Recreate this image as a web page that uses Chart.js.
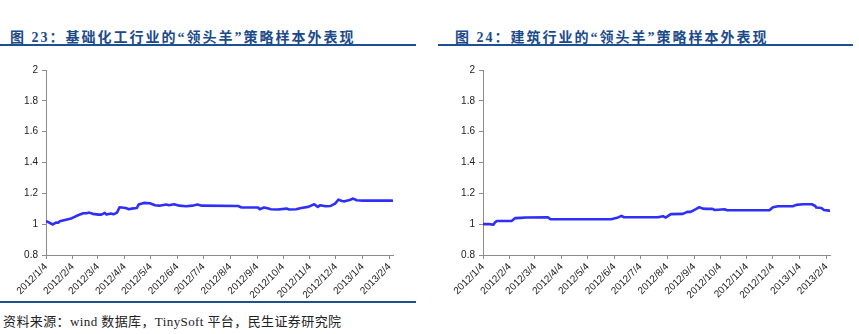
<!DOCTYPE html>
<html>
<head>
<meta charset="utf-8">
<script src="https://cdn.jsdelivr.net/npm/chart.js@4/dist/chart.umd.min.js"></script>
<style>
  html, body { margin: 0; padding: 0; background: #fff; }
  body { width: 859px; height: 334px; position: relative; overflow: hidden; }
  .title {
    position: absolute; top: 26px; white-space: nowrap;
    font: bold 14px "Liberation Serif", "Noto Sans CJK SC", serif;
    color: #1b4a8a; letter-spacing: 2px;
  }
  .rule { position: absolute; height: 2px; background: #1d4f93; }
  .box { position: absolute; top: 60px; width: 403px; height: 240px; }
  .source {
    position: absolute; left: 3px; top: 311px; white-space: nowrap;
    font: 13px "Liberation Serif", "Noto Sans CJK SC", serif; color: #222; letter-spacing: 0.4px;
  }
</style>
</head>
<body>
<div class="title" style="left:10px">图 23：基础化工行业的“领头羊”策略样本外表现</div>
<div class="rule" style="left:0; top:44px; width:416px"></div>
<div class="title" style="left:455px">图 24：建筑行业的“领头羊”策略样本外表现</div>
<div class="rule" style="left:438px; top:44px; width:415px"></div>
<div class="box" style="left:0"><canvas id="chem"></canvas></div>
<div class="box" style="left:437px"><canvas id="build"></canvas></div>
<div class="rule" style="left:0; top:301px; width:416px"></div>
<div class="source">资料来源：wind 数据库，TinySoft 平台，民生证券研究院</div>

<script>
// Monthly axis labels (date axis, one label per month)
const xTickLabels = ['2012/1/4','2012/2/4','2012/3/4','2012/4/4','2012/5/4','2012/6/4','2012/7/4',
  '2012/8/4','2012/9/4','2012/10/4','2012/11/4','2012/12/4','2013/1/4','2013/2/4'];
const yTickValues = [0.8, 1, 1.2, 1.4, 1.6, 1.8, 2];
const yTickLabels = ['0.8', '1', '1.2', '1.4', '1.6', '1.8', '2'];

// 基础化工 net value
const chemDates = ['2012-01-04','2012-01-06','2012-01-12','2012-01-16','2012-01-18','2012-01-20',
  '2012-02-02','2012-02-06','2012-02-10','2012-02-16','2012-02-20','2012-02-23','2012-02-27',
  '2012-03-05','2012-03-08','2012-03-12','2012-03-14','2012-03-19','2012-03-22','2012-03-26','2012-03-29',
  '2012-04-05','2012-04-09','2012-04-12','2012-04-18','2012-04-20','2012-04-26',
  '2012-05-03','2012-05-09','2012-05-14','2012-05-22','2012-05-25','2012-05-31',
  '2012-06-06','2012-06-14','2012-06-21','2012-06-27','2012-07-02','2012-08-13','2012-08-17',
  '2012-09-05','2012-09-07','2012-09-12','2012-09-17','2012-09-20','2012-09-28',
  '2012-10-08','2012-10-11','2012-10-19','2012-10-25',
  '2012-11-02','2012-11-09','2012-11-13','2012-11-16','2012-11-22','2012-11-28',
  '2012-12-03','2012-12-07','2012-12-11','2012-12-14','2012-12-20','2012-12-24','2012-12-28',
  '2013-01-04','2013-02-07'];
const chemValues = [1.019,1.015,0.998,1.011,1.009,1.019,
  1.037,1.047,1.058,1.071,1.071,1.075,1.067,
  1.062,1.062,1.073,1.062,1.069,1.064,1.075,1.110,
  1.105,1.097,1.101,1.105,1.127,1.138,
  1.136,1.123,1.120,1.127,1.123,1.129,
  1.120,1.116,1.120,1.127,1.120,1.118,1.108,
  1.108,1.097,1.108,1.101,1.097,1.095,
  1.101,1.095,1.097,1.105,
  1.112,1.129,1.112,1.123,1.116,1.118,
  1.133,1.159,1.150,1.148,1.157,1.166,1.155,
  1.153,1.153];

// 建筑 net value
const buildDates = ['2012-01-04','2012-01-12','2012-01-16','2012-01-18','2012-01-20',
  '2012-02-06','2012-02-10','2012-02-17','2012-02-22','2012-03-19','2012-03-22',
  '2012-05-31','2012-06-07','2012-06-12','2012-06-15','2012-07-24','2012-07-30',
  '2012-08-02','2012-08-08','2012-08-22','2012-08-27','2012-08-31',
  '2012-09-06','2012-09-10','2012-09-14','2012-09-18','2012-09-25','2012-09-28',
  '2012-10-09','2012-10-12','2012-11-30','2012-12-04','2012-12-10','2012-12-27','2012-12-31',
  '2013-01-08','2013-01-18','2013-01-22','2013-01-23','2013-01-29','2013-02-01','2013-02-07'];
const buildValues = [1.000,1.000,0.997,1.012,1.021,
  1.021,1.039,1.041,1.043,1.045,1.032,
  1.032,1.041,1.054,1.045,1.045,1.052,
  1.043,1.065,1.067,1.080,1.080,
  1.097,1.110,1.101,1.099,1.099,1.092,
  1.097,1.090,1.090,1.110,1.116,1.116,1.125,
  1.129,1.129,1.118,1.108,1.105,1.092,1.088];

// days elapsed since the first trading day
const BASE = Date.UTC(2012, 0, 4);
function dayOf(s) {
  const [y, m, d] = s.split(/[-\/]/).map(Number);
  return (Date.UTC(y, m - 1, d) - BASE) / 864e5;
}
const xTickDays = xTickLabels.map(dayOf);
const X_MAX = dayOf('2013-02-08');

const axisColor = '#8c8c8c';
const tickFont = { family: '"Liberation Sans", Arial, sans-serif', size: 10 };

function makeChart(id, dates, values) {
  return new Chart(document.getElementById(id), {
    type: 'line',
    data: {
      datasets: [{
        data: dates.map((d, i) => ({ x: dayOf(d), y: values[i] })),
        borderColor: '#2f2ffc',
        borderWidth: 2.6,
        pointRadius: 0,
        tension: 0,
        borderJoinStyle: 'round',
        borderCapStyle: 'round'
      }]
    },
    options: {
      responsive: true,
      maintainAspectRatio: false,
      animation: false,
      layout: { padding: { top: 9, right: 10, left: 0, bottom: 0 } },
      plugins: { legend: { display: false }, tooltip: { enabled: false } },
      scales: {
        x: {
          type: 'linear',
          min: 0,
          max: X_MAX,
          afterBuildTicks: s => { s.ticks = xTickDays.map(v => ({ value: v })); },
          afterFit: s => { s.height = 45; },
          grid: { drawOnChartArea: false, tickLength: 4, color: axisColor },
          border: { color: axisColor, width: 1 },
          ticks: {
            autoSkip: false, maxRotation: 45, minRotation: 45, padding: 2,
            color: '#222', font: tickFont,
            callback: v => xTickLabels[xTickDays.indexOf(v)]
          }
        },
        y: {
          min: 0.8,
          max: 2,
          afterBuildTicks: s => { s.ticks = yTickValues.map(v => ({ value: v })); },
          afterFit: s => { s.width = 46; },
          grid: { drawOnChartArea: false, tickLength: 4, color: axisColor },
          border: { color: axisColor, width: 1 },
          ticks: {
            padding: 4, color: '#222', font: tickFont,
            callback: v => yTickLabels[yTickValues.findIndex(t => Math.abs(t - v) < 1e-9)]
          }
        }
      }
    }
  });
}

makeChart('chem', chemDates, chemValues);
makeChart('build', buildDates, buildValues);
</script>
</body>
</html>
